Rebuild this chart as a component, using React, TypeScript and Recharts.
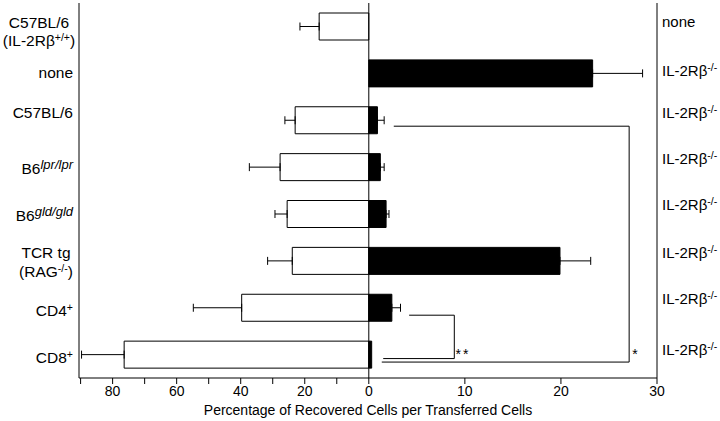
import React from 'react';
import { BarChart, Bar, XAxis, YAxis, ErrorBar, ReferenceLine, ReferenceDot, Label } from 'recharts';

const FONT = '"Liberation Sans", Arial, Helvetica, sans-serif';
// the left half of the axis spans three times the range of the right half
const RATIO = 3;

type Part = [string, '' | 'sup' | 'supi'];

const rowIds = ['c57wt', 'none', 'c57', 'lpr', 'gld', 'tcr', 'cd4', 'cd8'];

// donor labels (left), one entry per line
const donorLabels: Part[][][] = [
  [[['C57BL/6', '']], [['(IL-2Rβ', ''], ['+/+', 'sup'], [')', '']]],
  [[['none', '']]],
  [[['C57BL/6', '']]],
  [[['B6', ''], ['lpr/lpr', 'supi']]],
  [[['B6', ''], ['gld/gld', 'supi']]],
  [[['TCR tg', '']], [['(RAG', ''], ['-/-', 'sup'], [')', '']]],
  [[['CD4', ''], ['+', 'sup']]],
  [[['CD8', ''], ['+', 'sup']]],
];

// recipient labels (right)
const recipients = ['none', 'ko', 'ko', 'ko', 'ko', 'ko', 'ko', 'ko'];

// open bars, left scale
const openVals = [15.5, undefined, 23.0, 27.7, 25.5, 23.9, 39.7, 76.4];
const openErr = [6.0, undefined, 3.2, 9.6, 3.8, 7.7, 15.1, 13.3];
// filled bars, right scale
const filledVals = [undefined, 23.3, 0.9, 1.2, 1.8, 19.9, 2.4, 0.3];
const filledErr = [undefined, 5.2, 0.7, 0.4, 0.3, 3.2, 0.9, undefined];

const leftTicks = [90, 80, 70, 60, 50, 40, 30, 20, 10, 0];
const leftLabeled = [80, 60, 40, 20, 0];
const rightTicks = [10, 20, 30];

// label baseline offsets per line (px from row centre)
const donorDy = [[2, 20], [5], [-2], [7], [7], [-3, 16], [8], [8]];
const donorBlockShift: Record<number, number> = { 0: 40, 5: 33 };
const recipientDy = [1, 3, -2, -3, -4, -3, -4, 0];

const data = rowIds.map((id, i) => ({
  id,
  open: openVals[i] === undefined ? undefined : -(openVals[i] as number),
  openErr: openErr[i] === undefined ? undefined : [openErr[i], 0],
  filled: filledVals[i] === undefined ? undefined : (filledVals[i] as number) * RATIO,
  filledErr: filledErr[i] === undefined ? undefined : [0, (filledErr[i] as number) * RATIO],
}));

const xTicks = [...leftTicks.map((v) => -v), ...rightTicks.map((v) => v * RATIO)];
const fmtX = (v: number) => {
  if (v === 0) return '0';
  if (v < 0) return leftLabeled.includes(-v) ? String(-v) : '';
  return String(v / RATIO);
};

// significance brackets, x in right-scale units
const brackets = [
  { x1: 2.6, r1: 'c57', d1: 6, x2: 27.1, r2: 'c57', d2: 6 },
  { x1: 27.1, r1: 'c57', d1: 6, x2: 27.1, r2: 'cd8', d2: 7.5 },
  { x1: 1.35, r1: 'cd8', d1: 7.5, x2: 27.1, r2: 'cd8', d2: 7.5 },
  { x1: 4.2, r1: 'cd4', d1: 7.5, x2: 8.9, r2: 'cd4', d2: 7.5 },
  { x1: 8.9, r1: 'cd4', d1: 7.5, x2: 8.9, r2: 'cd8', d2: 4 },
  { x1: 1.5, r1: 'cd8', d1: 4, x2: 8.9, r2: 'cd8', d2: 4 },
];
const stars = [
  { x: 27.8, row: 'cd8', text: '*' },
  { x: 9.8, row: 'cd8', text: '**' },
];

const renderParts = (parts: Part[]) => {
  let raise = 0;
  return parts.map(([t, k], j) => {
    const r = k === 'sup' ? 5 : k === 'supi' ? 5 : 0;
    const dy = raise - r;
    raise = r;
    return (
      <tspan
        key={j}
        dy={dy || undefined}
        fill="#000"
        fontSize={k === 'sup' ? 10.5 : k === 'supi' ? 13 : undefined}
        fontStyle={k === 'supi' ? 'italic' : undefined}
      >
        {t}
      </tspan>
    );
  });
};

const DonorTick = (props: any) => {
  const { x, y, payload } = props;
  const i = rowIds.indexOf(payload.value);
  const lines = donorLabels[i];
  const multi = lines.length > 1;
  const tx = multi ? x - donorBlockShift[i] : x - 6;
  return (
    <g>
      {lines.map((ln, j) => (
        <text key={j} x={tx} y={y + donorDy[i][j]} textAnchor={multi ? 'middle' : 'end'}
          fontSize={15.5} fontFamily={FONT} fill="#000">
          {renderParts(ln)}
        </text>
      ))}
    </g>
  );
};

const RecipientTick = (props: any) => {
  const { x, y, payload } = props;
  const i = rowIds.indexOf(payload.value);
  const parts: Part[] = recipients[i] === 'none' ? [['none', '']] : [['IL-2Rβ', ''], ['-/-', 'sup']];
  return (
    <text x={x + 5} y={y + recipientDy[i]} textAnchor="start" fontSize={15} fontFamily={FONT} fill="#000">
      {renderParts(parts)}
    </text>
  );
};

export default function App() {
  return (
    <div style={{ position: 'absolute', left: 0, top: 0, background: '#fff' }}>
      <BarChart
        width={720}
        height={421}
        data={data}
        layout="vertical"
        barGap={-27}
        margin={{ top: 3, right: 0, bottom: 0, left: 0 }}
      >
        <XAxis
          type="number"
          domain={[-90.5, 90]}
          ticks={xTicks}
          interval={0}
          allowDataOverflow
          tickFormatter={fmtX}
          tick={{ fill: '#000', fontSize: 14, fontFamily: FONT }}
          tickLine={{ stroke: '#000' }}
          axisLine={{ stroke: '#000' }}
          tickSize={6}
          tickMargin={2}
          height={43}
        >
          <Label value="Percentage of Recovered Cells per Transferred Cells" position="insideBottom"
            offset={6} fill="#000" fontSize={14} fontFamily={FONT} />
        </XAxis>
        <XAxis xAxisId="top" orientation="top" type="number" domain={[-90.5, 90]} height={0}
          tick={false} tickLine={false} axisLine={{ stroke: '#000' }} />
        <YAxis yAxisId="left" type="category" dataKey="id" width={79} interval={0}
          tick={<DonorTick />} tickLine={false} tickSize={0} tickMargin={0} axisLine={{ stroke: '#000' }} />
        <YAxis yAxisId="right" orientation="right" type="category" dataKey="id" width={63} interval={0}
          tick={<RecipientTick />} tickLine={false} tickSize={0} tickMargin={0} axisLine={{ stroke: '#000' }} />
        <Bar yAxisId="left" dataKey="open" fill="#fff" stroke="#000" strokeWidth={1} barSize={27} isAnimationActive={false}>
          <ErrorBar dataKey="openErr" direction="x" width={4} stroke="#000" strokeWidth={1} />
        </Bar>
        <Bar yAxisId="left" dataKey="filled" fill="#000" stroke="#000" strokeWidth={1} barSize={27} isAnimationActive={false}>
          <ErrorBar dataKey="filledErr" direction="x" width={4} stroke="#000" strokeWidth={1} />
        </Bar>
        <ReferenceLine yAxisId="left" x={0} stroke="#000" strokeWidth={1} />
        {brackets.map((b, k) => (
          <ReferenceLine
            key={`br-${k}`}
            yAxisId="left"
            segment={[{ x: b.x1 * RATIO, y: b.r1 }, { x: b.x2 * RATIO, y: b.r2 }]}
            shape={(p: any) => (
              <line x1={p.x1} y1={p.y1 + b.d1} x2={p.x2} y2={p.y2 + b.d2} stroke="#000" strokeWidth={1} />
            )}
          />
        ))}
        {stars.map((s, k) => (
          <ReferenceDot
            key={`st-${k}`}
            yAxisId="left"
            x={s.x * RATIO}
            y={s.row}
            r={0}
            shape={(p: any) => (
              <text x={p.cx} y={p.cy + 4} textAnchor="middle" fontSize={14} letterSpacing={2}
                fontFamily={FONT} fill="#000">{s.text}</text>
            )}
          />
        ))}
      </BarChart>
    </div>
  );
}
